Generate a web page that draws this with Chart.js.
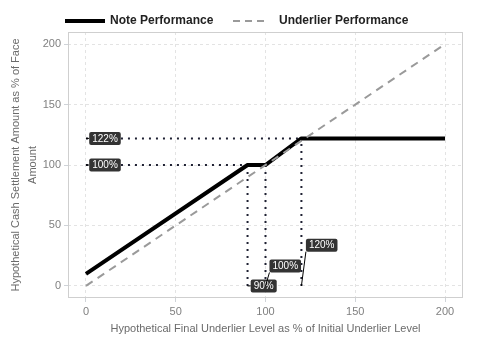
<!DOCTYPE html>
<html><head><meta charset="utf-8">
<script src="https://cdn.jsdelivr.net/npm/chart.js@4/dist/chart.umd.min.js"></script>
<style>html,body{margin:0;padding:0;background:#fff}#wrap{width:480px;height:360px}</style>
</head><body><div id="wrap"><canvas id="c" width="480" height="360"></canvas></div>
<script>
// ---- data ----
const noteX = [0, 90, 100, 120, 200];
const noteY = [10, 100, 100, 122, 122];
const underX = [0, 200];
const underY = [0, 200];
const tickValues = [0, 50, 100, 150, 200];
// reference (dotted) segments: [x1,y1,x2,y2]
const refX1 = [0, 0, 90, 100, 120];
const refY1 = [122, 100, 0, 0, 0];
const refX2 = [120, 90, 90, 100, 120];
const refY2 = [122, 100, 100, 100, 122];
// labels
const labelText = ['122%', '100%', '90%', '100%', '120%'];
const labelAnchorX = [0, 0, 90, 100, 120];
const labelAnchorY = [122, 100, 0, 0, 0];
const labelBoxX = [10.6, 10.6, 99, 111, 131.3];
const labelBoxY = [122, 100, 0, 16.5, 33.7];
const seriesNames = ['Note Performance', 'Underlier Performance'];
const xTitle = 'Hypothetical Final Underlier Level as % of Initial Underlier Level';
const yTitle = ['Hypothetical Cash Settlement Amount as % of Face', 'Amount'];

const FONT = '"Liberation Sans", Arial, sans-serif';
const pts = (xs, ys) => xs.map((x, i) => ({x, y: ys[i]}));

const datasets = [];
datasets.push({label: seriesNames[1], data: pts(underX, underY), showLine: true, borderColor: '#9a9a9a',
  borderWidth: 2, borderDash: [8, 6], pointRadius: 0, order: 0});
datasets.push({label: seriesNames[0], data: pts(noteX, noteY), showLine: true, borderColor: '#000000',
  borderWidth: 4, pointRadius: 0, order: 1, borderJoinStyle: 'round'});
for (let i = 0; i < refX1.length; i++) {
  datasets.push({label: 'ref' + i, data: [{x: refX1[i], y: refY1[i]}, {x: refX2[i], y: refY2[i]}],
    showLine: true, borderColor: '#1f2133', borderWidth: 2, borderDash: [2, 5], pointRadius: 0, order: 2});
}

const deco = {
  id: 'deco',
  beforeDatasetsDraw(chart) {
    const {ctx, chartArea: a} = chart;
    ctx.save();
    ctx.strokeStyle = '#cfcfcf'; ctx.lineWidth = 1; ctx.setLineDash([]);
    ctx.strokeRect(a.left + 0.5, a.top + 0.5, a.right - a.left - 1, a.bottom - a.top - 1);
    ctx.restore();
  },
  afterDatasetsDraw(chart) {
    const {ctx, scales: {x, y}} = chart;
    ctx.save();
    ctx.font = '10px ' + FONT;
    ctx.textAlign = 'center'; ctx.textBaseline = 'middle';
    for (let i = 0; i < labelText.length; i++) {
      const ax = x.getPixelForValue(labelAnchorX[i]), ay = y.getPixelForValue(labelAnchorY[i]);
      const cx = x.getPixelForValue(labelBoxX[i]), cy = y.getPixelForValue(labelBoxY[i]);
      const w = ctx.measureText(labelText[i]).width + 6, h = 13;
      const l = cx - w / 2, t = cy - h / 2;
      const nx = Math.min(Math.max(ax, l), l + w), ny = Math.min(Math.max(ay, t), t + h);
      ctx.strokeStyle = '#000'; ctx.lineWidth = 1; ctx.setLineDash([]);
      ctx.beginPath(); ctx.moveTo(ax, ay); ctx.lineTo(nx, ny); ctx.stroke();
      ctx.fillStyle = '#333333';
      ctx.beginPath(); ctx.roundRect(l, t, w, h, 2); ctx.fill();
      ctx.fillStyle = '#ffffff';
      ctx.fillText(labelText[i], cx, cy + 0.5);
    }
    ctx.restore();
  },
  afterDraw(chart) {
    const {ctx, chartArea: a} = chart;
    ctx.save();
    // legend
    ctx.font = 'bold 12px ' + FONT; ctx.textBaseline = 'middle'; ctx.textAlign = 'left';
    ctx.fillStyle = '#222';
    ctx.strokeStyle = '#000'; ctx.lineWidth = 4; ctx.setLineDash([]);
    ctx.beginPath(); ctx.moveTo(65, 21); ctx.lineTo(105, 21); ctx.stroke();
    ctx.fillText(seriesNames[0], 110, 21);
    ctx.strokeStyle = '#9a9a9a'; ctx.lineWidth = 2; ctx.setLineDash([7, 5]);
    ctx.beginPath(); ctx.moveTo(233, 21); ctx.lineTo(268, 21); ctx.stroke();
    ctx.fillText(seriesNames[1], 279, 21);
    // axis titles
    ctx.font = '11px ' + FONT; ctx.fillStyle = '#6b6b6b'; ctx.textAlign = 'center';
    ctx.textBaseline = 'middle';
    ctx.fillText(xTitle, (a.left + a.right) / 2, 329);
    const cy = (a.top + a.bottom) / 2;
    ctx.textBaseline = 'alphabetic';
    const bases = [19, 36];
    yTitle.forEach((line, i) => {
      ctx.save(); ctx.translate(bases[i], cy); ctx.rotate(-Math.PI / 2);
      ctx.fillText(line, 0, 0); ctx.restore();
    });
    ctx.restore();
  }
};

const axisCommon = {
  type: 'linear', min: -10, max: 210,
  afterBuildTicks: s => { s.ticks = tickValues.map(v => ({value: v})); },
  grid: {color: '#e3e3e3', lineWidth: 1, tickColor: '#cfd3d8', tickLength: 4, drawTicks: true},
  border: {display: false, dash: [3, 3]},
  ticks: {color: '#808080', font: {size: 11, family: FONT}, padding: 3, maxRotation: 0, autoSkip: false}
};

new Chart(document.getElementById('c'), {
  type: 'scatter',
  data: {datasets},
  options: {
    responsive: false, animation: false, devicePixelRatio: 1,
    layout: {padding: {left: 0, right: 17, top: 32, bottom: 0}},
    plugins: {legend: {display: false}, tooltip: {enabled: false}},
    scales: {
      x: Object.assign({}, axisCommon, {afterFit: s => { s.height = 62; }}),
      y: Object.assign({}, axisCommon, {afterFit: s => { s.width = 68; }})
    }
  },
  plugins: [deco]
});
</script></body></html>
